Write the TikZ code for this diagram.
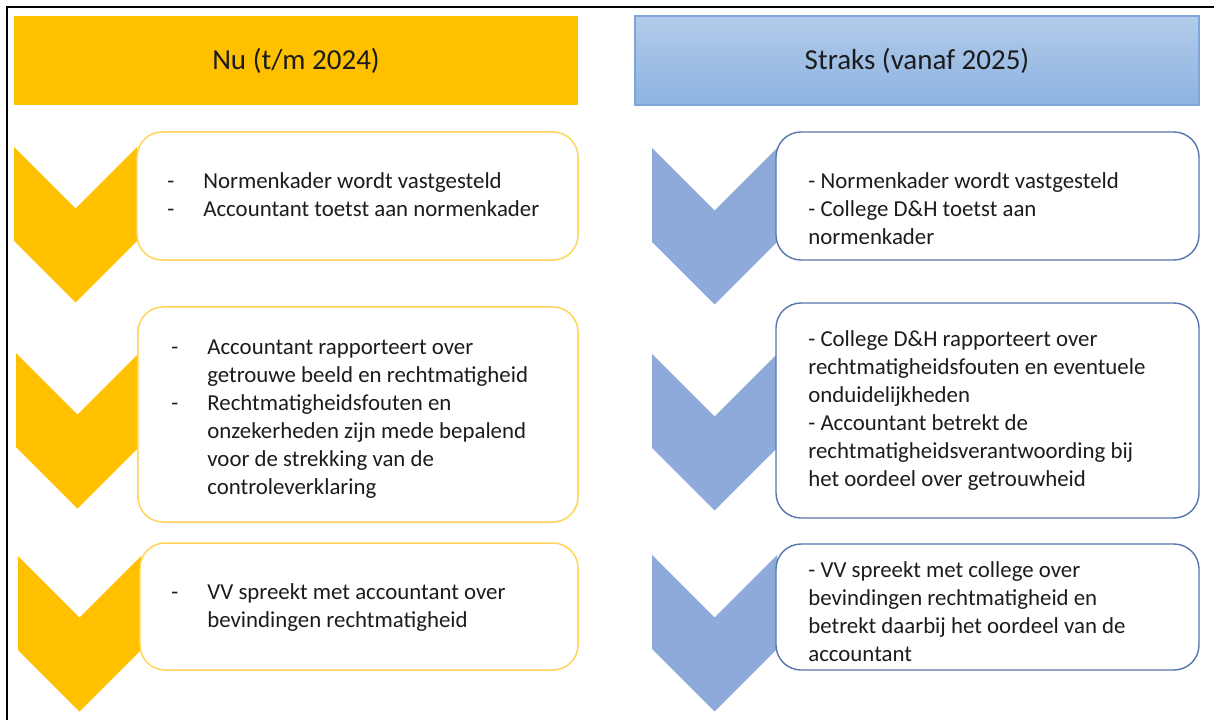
\documentclass[tikz,border=0pt]{standalone}
\usepackage{fontspec}
\setmainfont{Carlito}
\usepackage{xcolor}
\usepackage{tikz}
\usetikzlibrary{positioning, calc}
\definecolor{nugold}{HTML}{FFC000}
\definecolor{nuedge}{HTML}{FFD457}
\definecolor{straksblue}{HTML}{8EAADB}
\definecolor{straksedge}{HTML}{5676AC}
\definecolor{headtop}{HTML}{B2CBE9}
\definecolor{headbot}{HTML}{8DB3E2}
\definecolor{headedge}{HTML}{7EA6D8}
\definecolor{inktext}{HTML}{1C1C1C}
\tikzstyle{nuhead} = [rectangle, minimum width=112.8mm, minimum height=17.8mm,
  fill=nugold, text=inktext, font=\fontsize{16.5}{20}\selectfont, inner sep=0pt]
\tikzstyle{strakshead} = [rectangle, minimum width=112.8mm, minimum height=17.8mm,
  draw=headedge, top color=headtop, bottom color=headbot, text=inktext,
  font=\fontsize{16.5}{20}\selectfont, inner sep=0pt, line width=0.25mm]
\tikzstyle{nubox} = [rectangle, rounded corners=5mm, draw=nuedge, fill=white,
  line width=0.3mm, inner sep=0pt]
\tikzstyle{straksbox} = [rectangle, rounded corners=5mm, draw=straksedge, fill=white,
  line width=0.28mm, inner sep=0pt]
\tikzstyle{itemtext} = [anchor=west, inner sep=0pt, text=inktext,
  font=\fontsize{13}{15.9}\selectfont]
\setlength{\tabcolsep}{0pt}
% chevron: left x, top y, width, colour
\newcommand{\chevron}[4]{%
  \fill[#4] (#1,#2) -- ++(0.5*#3,0.5*#3) -- ++(0.5*#3,-0.5*#3) -- ++(0,94)
    -- ++(-0.5*#3,0.5*#3) -- ++(-0.5*#3,-0.5*#3) -- cycle;}

\begin{document}
\begin{tikzpicture}[x=0.2mm, y=-0.2mm]
  \useasboundingbox (0,0) rectangle (1214,720);

  % frame
  \draw[line width=0.5mm] (7,720) -- (7,7) -- (1216,7);

  % === HEADERS ===
  \node (nuhd) [nuhead] at (296,60.5) {Nu (t/m 2024)};
  \node (skhd) [strakshead] at (917,60.5) {Straks (vanaf 2025)};

  % === CHEVRONS ===
  \chevron{14}{147}{123}{nugold}
  \chevron{16}{353}{123}{nugold}
  \chevron{18}{556}{123}{nugold}
  \chevron{652}{148}{125}{straksblue}
  \chevron{652}{354}{125}{straksblue}
  \chevron{652}{555}{125}{straksblue}

  % === NU (left column) ===
  \node (nu1) [nubox, minimum width=88.2mm, minimum height=25.6mm] at (357.5,196) {};
  \node (nu2) [nubox, minimum width=88mm, minimum height=43mm] at (358,414.5) {};
  \node (nu3) [nubox, minimum width=87.6mm, minimum height=25.4mm] at (359,606.5) {};

  \node (nu1txt) [itemtext] at (167,197) {\begin{tabular}{@{}p{7.2mm}@{}l@{}}
    - & Normenkader wordt vastgesteld\\
    - & Accountant toetst aan normenkader
  \end{tabular}};
  \node (nu2txt) [itemtext] at (171,419) {\begin{tabular}{@{}p{7.2mm}@{}l@{}}
    - & Accountant rapporteert over\\
      & getrouwe beeld en rechtmatigheid\\
    - & Rechtmatigheidsfouten en\\
      & onzekerheden zijn mede bepalend\\
      & voor de strekking van de\\
      & controleverklaring
  \end{tabular}};
  \node (nu3txt) [itemtext] at (171,608) {\begin{tabular}{@{}p{7.2mm}@{}l@{}}
    - & VV spreekt met accountant over\\
      & bevindingen rechtmatigheid
  \end{tabular}};

  % === STRAKS (right column) ===
  \node (sk1) [straksbox, minimum width=84.6mm, minimum height=25.6mm] at (987.5,196) {};
  \node (sk2) [straksbox, minimum width=84.6mm, minimum height=43mm] at (987.5,410.5) {};
  \node (sk3) [straksbox, minimum width=84.6mm, minimum height=25.2mm] at (987.5,607) {};

  \node (sk1txt) [itemtext] at (808,211) {\begin{tabular}{@{}l@{}}
    - Normenkader wordt vastgesteld\\
    - College D\&H toetst aan\\
    normenkader
  \end{tabular}};
  \node (sk2txt) [itemtext] at (808,411) {\begin{tabular}{@{}l@{}}
    - College D\&H rapporteert over\\
    rechtmatigheidsfouten en eventuele\\
    onduidelijkheden\\
    - Accountant betrekt de\\
    rechtmatigheidsverantwoording bij\\
    het oordeel over getrouwheid
  \end{tabular}};
  \node (sk3txt) [itemtext] at (808,614) {\begin{tabular}{@{}l@{}}
    - VV spreekt met college over\\
    bevindingen rechtmatigheid en\\
    betrekt daarbij het oordeel van de\\
    accountant
  \end{tabular}};

\end{tikzpicture}
\end{document}
